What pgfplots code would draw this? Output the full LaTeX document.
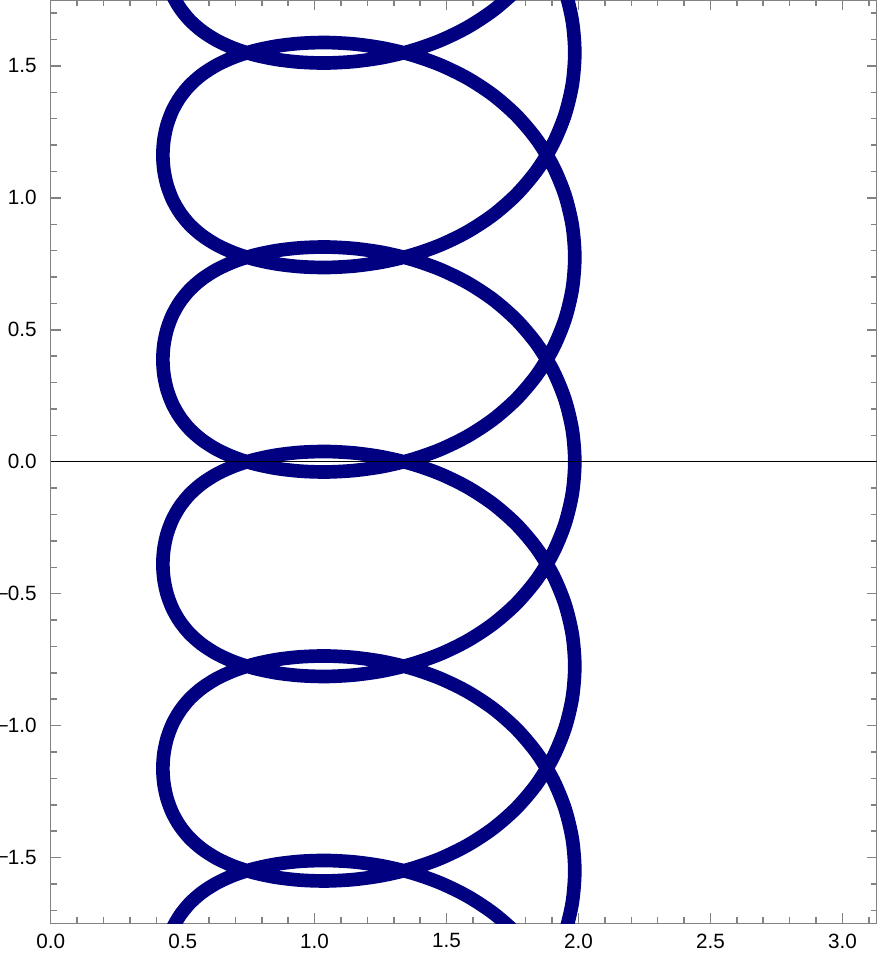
\documentclass[border=0pt]{standalone}
\usepackage{fontspec}
\setmainfont{Liberation Sans}
\usepackage{pgfplots}
\pgfplotsset{compat=1.18}
\definecolor{curvecol}{RGB}{0,0,128}
\definecolor{framegray}{RGB}{130,130,130}
\newcommand{\mn}{\raisebox{0.08em}{–}}
\begin{document}
\begin{tikzpicture}
\path[use as bounding box] (-15.21pt,-9.15pt) rectangle (249.69pt,277.05pt);
\begin{axis}[
 scale only axis, width=247.8pt, height=277.05pt,
 xmin=0, xmax=3.13, ymin=-1.75, ymax=1.75,
 axis line style={framegray, line width=0.45pt},
 tick style={framegray, line width=0.45pt},
 major tick length=3pt, minor tick length=1.8pt,
 tick align=inside, tick pos=both, ticklabel pos=left,
 xtick={0,0.5,1,1.5,2,2.5,3}, xticklabels={0.0,0.5,1.0,1.5,2.0,2.5,3.0},
 ytick={-1.5,-1,-0.5,0,0.5,1,1.5}, yticklabels={\mn1.5,\mn1.0,\mn0.5,0.0,0.5,1.0,1.5},
 minor xtick={0.1,0.2,0.3,0.4,0.6,0.7,0.8,0.9,1.1,1.2,1.3,1.4,1.6,1.7,1.8,1.9,2.1,2.2,2.3,2.4,2.6,2.7,2.8,2.9,3.1},
 minor ytick={-1.7,-1.6,-1.4,-1.3,-1.2,-1.1,-0.9,-0.8,-0.7,-0.6,-0.4,-0.3,-0.2,-0.1,0.1,0.2,0.3,0.4,0.6,0.7,0.8,0.9,1.1,1.2,1.3,1.4,1.6,1.7},
 ticklabel style={font=\fontsize{6.2}{7}\selectfont, text=black, inner sep=0pt},
 xticklabel style={anchor=north, yshift=-2.85pt},
 yticklabel style={anchor=east, xshift=-4pt},
 clip=true,
]
\addplot[curvecol, line width=4.1pt, smooth, line join=round] coordinates {
(1.9860,-2.3250) (1.9766,-2.2053) (1.9487,-2.0890) (1.9032,-1.9790) (1.8414,-1.8781) (1.7654,-1.7883) (1.6774,-1.7110) (1.5799,-1.6469) (1.4758,-1.5961) (1.3676,-1.5581) (1.2582,-1.5320) (1.1501,-1.5168) (1.0455,-1.5112) (0.9464,-1.5143) (0.8542,-1.5249) (0.7702,-1.5425) (0.6953,-1.5665) (0.6297,-1.5965) (0.5736,-1.6323) (0.5270,-1.6733) (0.4896,-1.7194) (0.4610,-1.7697) (0.4409,-1.8236) (0.4290,-1.8799) (0.4250,-1.9375) (0.4290,-1.9951) (0.4409,-2.0514) (0.4610,-2.1053) (0.4896,-2.1556) (0.5270,-2.2017) (0.5736,-2.2427) (0.6297,-2.2785) (0.6953,-2.3085) (0.7702,-2.3325) (0.8542,-2.3501) (0.9464,-2.3607) (1.0455,-2.3638) (1.1501,-2.3582) (1.2582,-2.3430) (1.3676,-2.3169) (1.4758,-2.2789) (1.5799,-2.2281) (1.6774,-2.1640) (1.7654,-2.0867) (1.8414,-1.9969) (1.9032,-1.8960) (1.9487,-1.7860) (1.9766,-1.6697)
(1.9860,-1.5500) (1.9766,-1.4303) (1.9487,-1.3140) (1.9032,-1.2040) (1.8414,-1.1031) (1.7654,-1.0133) (1.6774,-0.9360) (1.5799,-0.8719) (1.4758,-0.8211) (1.3676,-0.7831) (1.2582,-0.7570) (1.1501,-0.7418) (1.0455,-0.7362) (0.9464,-0.7393) (0.8542,-0.7499) (0.7702,-0.7675) (0.6953,-0.7915) (0.6297,-0.8215) (0.5736,-0.8573) (0.5270,-0.8983) (0.4896,-0.9444) (0.4610,-0.9947) (0.4409,-1.0486) (0.4290,-1.1049) (0.4250,-1.1625) (0.4290,-1.2201) (0.4409,-1.2764) (0.4610,-1.3303) (0.4896,-1.3806) (0.5270,-1.4267) (0.5736,-1.4677) (0.6297,-1.5035) (0.6953,-1.5335) (0.7702,-1.5575) (0.8542,-1.5751) (0.9464,-1.5857) (1.0455,-1.5888) (1.1501,-1.5832) (1.2582,-1.5680) (1.3676,-1.5419) (1.4758,-1.5039) (1.5799,-1.4531) (1.6774,-1.3890) (1.7654,-1.3117) (1.8414,-1.2219) (1.9032,-1.1210) (1.9487,-1.0110) (1.9766,-0.8947)
(1.9860,-0.7750) (1.9766,-0.6553) (1.9487,-0.5390) (1.9032,-0.4290) (1.8414,-0.3281) (1.7654,-0.2383) (1.6774,-0.1610) (1.5799,-0.0969) (1.4758,-0.0461) (1.3676,-0.0081) (1.2582,0.0180) (1.1501,0.0332) (1.0455,0.0388) (0.9464,0.0357) (0.8542,0.0251) (0.7702,0.0075) (0.6953,-0.0165) (0.6297,-0.0465) (0.5736,-0.0823) (0.5270,-0.1233) (0.4896,-0.1694) (0.4610,-0.2197) (0.4409,-0.2736) (0.4290,-0.3299) (0.4250,-0.3875) (0.4290,-0.4451) (0.4409,-0.5014) (0.4610,-0.5553) (0.4896,-0.6056) (0.5270,-0.6517) (0.5736,-0.6927) (0.6297,-0.7285) (0.6953,-0.7585) (0.7702,-0.7825) (0.8542,-0.8001) (0.9464,-0.8107) (1.0455,-0.8138) (1.1501,-0.8082) (1.2582,-0.7930) (1.3676,-0.7669) (1.4758,-0.7289) (1.5799,-0.6781) (1.6774,-0.6140) (1.7654,-0.5367) (1.8414,-0.4469) (1.9032,-0.3460) (1.9487,-0.2360) (1.9766,-0.1197)
(1.9860,0.0000) (1.9766,0.1197) (1.9487,0.2360) (1.9032,0.3460) (1.8414,0.4469) (1.7654,0.5367) (1.6774,0.6140) (1.5799,0.6781) (1.4758,0.7289) (1.3676,0.7669) (1.2582,0.7930) (1.1501,0.8082) (1.0455,0.8138) (0.9464,0.8107) (0.8542,0.8001) (0.7702,0.7825) (0.6953,0.7585) (0.6297,0.7285) (0.5736,0.6927) (0.5270,0.6517) (0.4896,0.6056) (0.4610,0.5553) (0.4409,0.5014) (0.4290,0.4451) (0.4250,0.3875) (0.4290,0.3299) (0.4409,0.2736) (0.4610,0.2197) (0.4896,0.1694) (0.5270,0.1233) (0.5736,0.0823) (0.6297,0.0465) (0.6953,0.0165) (0.7702,-0.0075) (0.8542,-0.0251) (0.9464,-0.0357) (1.0455,-0.0388) (1.1501,-0.0332) (1.2582,-0.0180) (1.3676,0.0081) (1.4758,0.0461) (1.5799,0.0969) (1.6774,0.1610) (1.7654,0.2383) (1.8414,0.3281) (1.9032,0.4290) (1.9487,0.5390) (1.9766,0.6553)
(1.9860,0.7750) (1.9766,0.8947) (1.9487,1.0110) (1.9032,1.1210) (1.8414,1.2219) (1.7654,1.3117) (1.6774,1.3890) (1.5799,1.4531) (1.4758,1.5039) (1.3676,1.5419) (1.2582,1.5680) (1.1501,1.5832) (1.0455,1.5888) (0.9464,1.5857) (0.8542,1.5751) (0.7702,1.5575) (0.6953,1.5335) (0.6297,1.5035) (0.5736,1.4677) (0.5270,1.4267) (0.4896,1.3806) (0.4610,1.3303) (0.4409,1.2764) (0.4290,1.2201) (0.4250,1.1625) (0.4290,1.1049) (0.4409,1.0486) (0.4610,0.9947) (0.4896,0.9444) (0.5270,0.8983) (0.5736,0.8573) (0.6297,0.8215) (0.6953,0.7915) (0.7702,0.7675) (0.8542,0.7499) (0.9464,0.7393) (1.0455,0.7362) (1.1501,0.7418) (1.2582,0.7570) (1.3676,0.7831) (1.4758,0.8211) (1.5799,0.8719) (1.6774,0.9360) (1.7654,1.0133) (1.8414,1.1031) (1.9032,1.2040) (1.9487,1.3140) (1.9766,1.4303)
(1.9860,1.5500) (1.9766,1.6697) (1.9487,1.7860) (1.9032,1.8960) (1.8414,1.9969) (1.7654,2.0867) (1.6774,2.1640) (1.5799,2.2281) (1.4758,2.2789) (1.3676,2.3169) (1.2582,2.3430) (1.1501,2.3582) (1.0455,2.3638) (0.9464,2.3607) (0.8542,2.3501) (0.7702,2.3325) (0.6953,2.3085) (0.6297,2.2785) (0.5736,2.2427) (0.5270,2.2017) (0.4896,2.1556) (0.4610,2.1053) (0.4409,2.0514) (0.4290,1.9951) (0.4250,1.9375) (0.4290,1.8799) (0.4409,1.8236) (0.4610,1.7697) (0.4896,1.7194) (0.5270,1.6733) (0.5736,1.6323) (0.6297,1.5965) (0.6953,1.5665) (0.7702,1.5425) (0.8542,1.5249) (0.9464,1.5143) (1.0455,1.5112) (1.1501,1.5168) (1.2582,1.5320) (1.3676,1.5581) (1.4758,1.5961) (1.5799,1.6469) (1.6774,1.7110) (1.7654,1.7883) (1.8414,1.8781) (1.9032,1.9790) (1.9487,2.0890) (1.9766,2.2053) (1.9860,2.3250)
};
\addplot[black, line width=0.45pt] coordinates {(0,0) (3.13,0)};
\end{axis}
\end{tikzpicture}
\end{document}
